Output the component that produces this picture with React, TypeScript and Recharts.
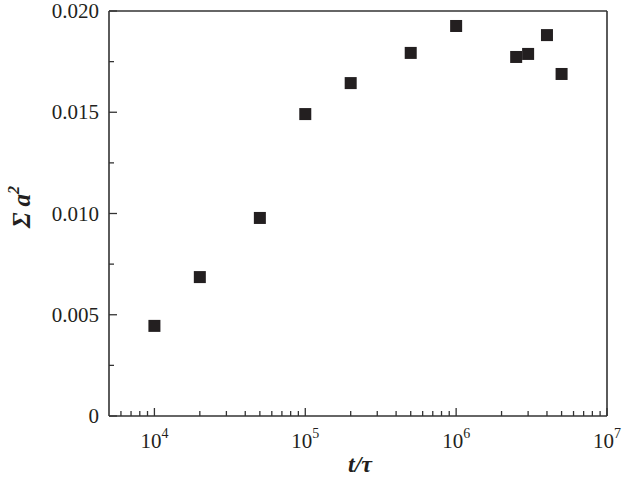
import { Scatter, ScatterChart, XAxis, YAxis } from "recharts";

// time t/tau and measured sum of a^2
const times = [1e4, 2e4, 5e4, 1e5, 2e5, 5e5, 1e6, 2.5e6, 3e6, 4e6, 5e6];
const sumA2 = [0.00445, 0.00686, 0.00978, 0.01491, 0.01644, 0.01793, 0.01926, 0.01773, 0.01788, 0.01881, 0.01689];

const majorX = [1e4, 1e5, 1e6, 1e7];
const minorX = [6e3, 7e3, 8e3, 9e3, 2e4, 3e4, 4e4, 5e4, 6e4, 7e4, 8e4, 9e4, 2e5, 3e5, 4e5, 5e5, 6e5, 7e5, 8e5, 9e5, 2e6, 3e6, 4e6, 5e6, 6e6, 7e6, 8e6, 9e6];
const yTicks = [0, 0.0025, 0.005, 0.0075, 0.01, 0.0125, 0.015, 0.0175, 0.02];

const data = times.map((t, i) => ({ t, s: sumA2[i] }));
const xTicks = [...minorX, ...majorX].sort((a, b) => a - b);

const axisColor = "#333";
const ink = "#231f20";
const serif = "'Liberation Serif', 'DejaVu Serif', serif";

const isMajorY = (v: number) => Math.round(v / 0.0025) % 2 === 0;

const BottomTick = (props: any) => {
	const { x, y, payload } = props;
	const v = payload.value;
	const major = majorX.includes(v);
	return (
		<g>
			<line x1={x} x2={x} y1={y} y2={y - (major ? 8 : 5)} stroke={axisColor} strokeWidth={1.3} />
			{major &&
				<text x={x} y={y + 32} textAnchor="middle" fontFamily={serif} fontSize={21} fill={ink}>
					10<tspan dy={-10} fontSize={14}>{Math.round(Math.log10(v))}</tspan>
				</text>
			}
		</g>
	);
};

const TopTick = (props: any) => {
	const { x, y, payload } = props;
	const major = majorX.includes(payload.value);
	return <line x1={x} x2={x} y1={y} y2={y + (major ? 8 : 5)} stroke={axisColor} strokeWidth={1.3} />;
};

const LeftTick = (props: any) => {
	const { x, y, payload } = props;
	const v = payload.value;
	const major = isMajorY(v);
	return (
		<g>
			<line x1={x} x2={x + (major ? 8 : 5)} y1={y} y2={y} stroke={axisColor} strokeWidth={1.3} />
			{major &&
				<text x={x - 10} y={y + 7} textAnchor="end" fontFamily={serif} fontSize={21} fill={ink}>
					{v === 0 ? "0" : v.toFixed(3)}
				</text>
			}
		</g>
	);
};

const RightTick = (props: any) => {
	const { x, y, payload } = props;
	const major = isMajorY(payload.value);
	return <line x1={x} x2={x - (major ? 8 : 5)} y1={y} y2={y} stroke={axisColor} strokeWidth={1.3} />;
};

const SquareDot = (props: any) => {
	const { cx, cy } = props;
	return <rect x={cx - 6} y={cy - 6} width={12} height={12} fill={ink} />;
};

const XLabel = () => (
	<text x={360} y={472} textAnchor="middle" fontFamily={serif} fontSize={24} fontWeight="bold" fontStyle="italic" fill={ink}>
		t/τ
	</text>
);

const YLabel = () => (
	<text transform="translate(30, 207) rotate(-90)" textAnchor="middle" fontFamily={serif} fontSize={25} fontWeight="bold" fontStyle="italic" fill={ink}>
		Σ a<tspan dy={-11} fontSize={16}>2</tspan>
	</text>
);

export default function App() {
	return (
		<div style={{ position: "absolute", left: 0, top: 0, background: "#fff" }}>
			<ScatterChart width={623} height={478} margin={{ top: 0, right: 0, bottom: 0, left: 0 }}>
				<XAxis
					dataKey="t"
					type="number"
					scale="log"
					domain={[5000, 1e7]}
					allowDataOverflow
					ticks={xTicks}
					interval={0}
					height={62}
					tickSize={0}
					tickMargin={0}
					tickLine={false}
					axisLine={{ stroke: axisColor, strokeWidth: 1.6 }}
					tick={<BottomTick />}
					label={<XLabel />}
				/>
				<XAxis
					xAxisId="top"
					orientation="top"
					type="number"
					scale="log"
					domain={[5000, 1e7]}
					allowDataOverflow
					ticks={xTicks}
					interval={0}
					height={11}
					tickSize={0}
					tickMargin={0}
					tickLine={false}
					axisLine={{ stroke: axisColor, strokeWidth: 1.6 }}
					tick={<TopTick />}
				/>
				<YAxis
					dataKey="s"
					type="number"
					domain={[0, 0.02]}
					ticks={yTicks}
					interval={0}
					width={109}
					tickSize={0}
					tickMargin={0}
					tickLine={false}
					axisLine={{ stroke: axisColor, strokeWidth: 1.6 }}
					tick={<LeftTick />}
					label={<YLabel />}
				/>
				<YAxis
					yAxisId="right"
					orientation="right"
					type="number"
					domain={[0, 0.02]}
					ticks={yTicks}
					interval={0}
					width={16}
					tickSize={0}
					tickMargin={0}
					tickLine={false}
					axisLine={{ stroke: axisColor, strokeWidth: 1.6 }}
					tick={<RightTick />}
				/>
				<Scatter data={data} fill={ink} shape={<SquareDot />} isAnimationActive={false} />
			</ScatterChart>
		</div>
	);
}
